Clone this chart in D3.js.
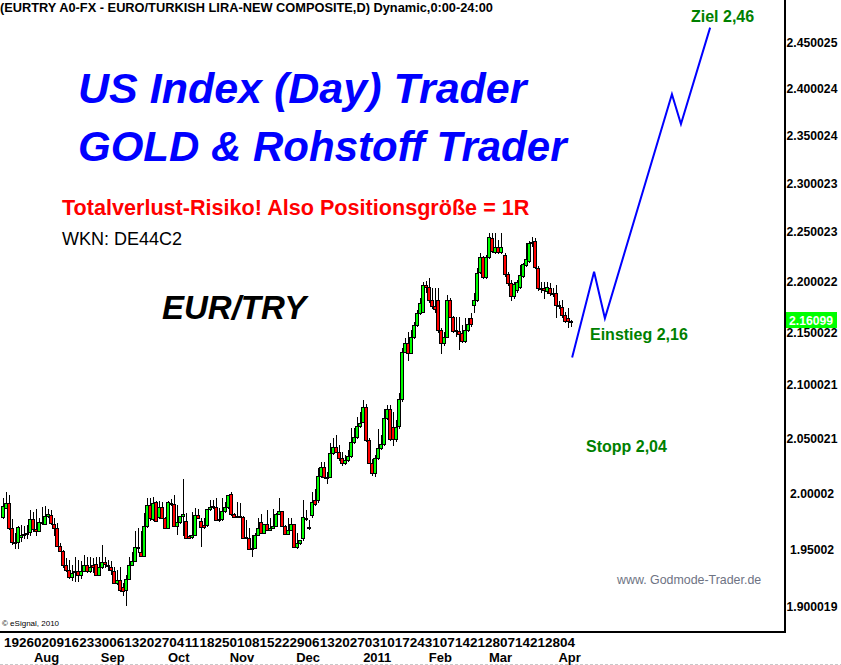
<!DOCTYPE html>
<html>
<head>
<meta charset="utf-8">
<script src="https://cdn.jsdelivr.net/npm/d3@7"></script>
<style>
  body { margin: 0; background: #fff; }
  svg { display: block; font-family: "Liberation Sans", Arial, sans-serif; }
</style>
</head>
<body>
<div id="chart"></div>
<script>
// EUR/TRY daily candles, 14 Jul 2010 - 5 Apr 2011
var opens = [
  1.9790,1.9870,1.9909,1.9686,1.9562,1.9568,1.9606,1.9627,1.9633,1.9651,
  1.9769,1.9680,1.9663,1.9731,1.9722,1.9799,1.9805,1.9725,1.9692,1.9532,
  1.9488,1.9364,1.9320,1.9254,1.9300,1.9306,1.9271,1.9312,1.9364,1.9306,
  1.9358,1.9370,1.9277,1.9341,1.9387,1.9364,1.9341,1.9312,1.9205,1.9233,
  1.9167,1.9147,1.9239,1.9364,1.9393,1.9508,1.9479,1.9445,1.9707,1.9894,
  1.9769,1.9918,1.9790,1.9879,1.9775,1.9686,1.9909,1.9900,1.9710,1.9740,
  1.9799,1.9752,1.9621,1.9612,1.9627,1.9805,1.9752,1.9716,1.9716,1.9858,
  1.9876,1.9879,1.9769,1.9769,1.9841,1.9879,1.9989,1.9811,1.9799,1.9790,
  1.9790,1.9612,1.9603,1.9508,1.9508,1.9627,1.9740,1.9642,1.9722,1.9672,
  1.9692,1.9710,1.9811,1.9841,1.9710,1.9633,1.9672,1.9722,1.9523,1.9553,
  1.9600,1.9780,1.9700,1.9805,1.9937,1.9939,2.0156,2.0236,2.0150,2.0150,
  2.0369,2.0423,2.0378,2.0318,2.0278,2.0302,2.0339,2.0469,2.0509,2.0615,
  2.0655,2.0790,2.0484,2.0272,2.0181,2.0318,2.0409,2.0448,2.0687,2.0772,
  2.0609,2.0491,2.0615,2.0865,2.1318,2.1404,2.1308,2.1456,2.1576,2.1690,
  2.1706,2.1968,2.1951,2.1821,2.1762,2.1821,2.1527,2.1404,2.1462,2.1821,
  2.1657,2.1527,2.1520,2.1494,2.1423,2.1527,2.1641,2.1771,2.1821,2.2100,
  2.2245,2.2050,2.2245,2.2436,2.2301,2.2345,2.2301,2.2268,2.2077,2.1984,
  2.1860,2.1919,2.1951,2.2057,2.2168,2.2211,2.2392,2.2412,2.2135,2.1935,
  2.1935,2.1909,2.1935,2.1886,2.1886,2.1772,2.1749,2.1674,2.1641,2.1618
];
var highs = [
  1.9959,2.0007,1.9983,1.9769,1.9642,1.9710,1.9716,1.9710,1.9716,1.9850,
  1.9835,1.9858,1.9775,1.9879,1.9888,1.9858,1.9850,1.9775,1.9731,1.9553,
  1.9494,1.9422,1.9407,1.9364,1.9436,1.9407,1.9393,1.9450,1.9436,1.9436,
  1.9427,1.9436,1.9436,1.9538,1.9436,1.9407,1.9393,1.9349,1.9320,1.9349,
  1.9205,1.9277,1.9436,1.9479,1.9657,1.9686,1.9657,1.9820,1.9959,1.9953,
  1.9968,1.9930,1.9930,1.9924,1.9790,1.9930,1.9947,1.9983,1.9894,1.9790,
  2.0130,1.9820,1.9627,1.9835,1.9870,1.9858,1.9775,1.9775,1.9858,1.9939,
  1.9939,1.9953,1.9864,1.9953,1.9924,1.9977,2.0007,1.9820,1.9918,1.9909,
  1.9799,1.9760,1.9692,1.9627,1.9642,1.9775,1.9811,1.9722,1.9850,1.9775,
  1.9858,1.9820,1.9959,1.9841,1.9716,1.9775,1.9775,1.9722,1.9642,1.9583,
  1.9938,1.9850,1.9760,2.0010,2.0040,2.0229,2.0287,2.0284,2.0195,2.0454,
  2.0500,2.0530,2.0439,2.0378,2.0348,2.0394,2.0594,2.0594,2.0702,2.0749,
  2.0859,2.0821,2.0503,2.0308,2.0348,2.0584,2.0530,2.0772,2.0812,2.0812,
  2.0749,2.0671,2.0921,2.1354,2.1449,2.1510,2.1526,2.1605,2.1723,2.1840,
  2.2000,2.2010,2.2033,2.1935,2.1935,2.1935,2.1546,2.1507,2.1870,2.1840,
  2.1664,2.1657,2.1651,2.1576,2.1641,2.1644,2.1690,2.1892,2.2135,2.2285,
  2.2258,2.2268,2.2492,2.2492,2.2492,2.2419,2.2492,2.2285,2.2097,2.2020,
  2.1997,2.2020,2.2168,2.2185,2.2386,2.2412,2.2452,2.2436,2.2158,2.2000,
  2.2000,2.1997,2.1990,2.1938,2.1968,2.1814,2.1821,2.1703,2.1739,2.1625
];
var lows = [
  1.9781,1.9864,1.9680,1.9544,1.9514,1.9514,1.9574,1.9597,1.9603,1.9627,
  1.9657,1.9627,1.9657,1.9722,1.9722,1.9790,1.9722,1.9627,1.9532,1.9488,
  1.9349,1.9312,1.9248,1.9233,1.9219,1.9219,1.9248,1.9306,1.9300,1.9300,
  1.9300,1.9271,1.9271,1.9335,1.9349,1.9320,1.9283,1.9205,1.9196,1.9138,
  1.9103,1.9016,1.9239,1.9358,1.9393,1.9479,1.9445,1.9445,1.9701,1.9760,
  1.9760,1.9746,1.9781,1.9775,1.9686,1.9686,1.9894,1.9710,1.9633,1.9731,
  1.9627,1.9597,1.9597,1.9603,1.9627,1.9775,1.9532,1.9692,1.9710,1.9850,
  1.9870,1.9760,1.9752,1.9760,1.9835,1.9870,1.9805,1.9790,1.9787,1.9787,
  1.9597,1.9597,1.9502,1.9445,1.9508,1.9627,1.9642,1.9642,1.9672,1.9672,
  1.9692,1.9710,1.9811,1.9710,1.9633,1.9633,1.9672,1.9523,1.9514,1.9544,
  1.9582,1.9760,1.9680,1.9790,1.9890,1.9920,2.0150,2.0138,2.0089,2.0144,
  2.0360,2.0370,2.0302,2.0257,2.0266,2.0296,2.0330,2.0460,2.0500,2.0605,
  2.0650,2.0475,2.0275,2.0165,2.0156,2.0310,2.0400,2.0440,2.0680,2.0485,
  2.0439,2.0475,2.0600,2.0850,2.1310,2.1238,2.1300,2.1450,2.1570,2.1680,
  2.1700,2.1900,2.1801,2.1742,2.1703,2.1507,2.1303,2.1382,2.1455,2.1650,
  2.1507,2.1468,2.1341,2.1411,2.1415,2.1520,2.1566,2.1703,2.1810,2.2090,
  2.2037,2.2040,2.2240,2.2298,2.2290,2.2288,2.2290,2.2057,2.1968,2.1821,
  2.1840,2.1899,2.1940,2.2050,2.2160,2.2200,2.2358,2.2138,2.1919,2.1899,
  2.1837,2.1890,2.1870,2.1860,2.1651,2.1742,2.1654,2.1605,2.1553,2.1566
];
var closes = [
  1.9888,1.9909,1.9686,1.9562,1.9568,1.9695,1.9627,1.9633,1.9642,1.9769,
  1.9680,1.9663,1.9740,1.9740,1.9793,1.9811,1.9731,1.9692,1.9532,1.9488,
  1.9358,1.9320,1.9254,1.9291,1.9306,1.9271,1.9312,1.9364,1.9306,1.9349,
  1.9349,1.9277,1.9341,1.9387,1.9370,1.9352,1.9317,1.9205,1.9233,1.9147,
  1.9138,1.9239,1.9364,1.9393,1.9517,1.9517,1.9445,1.9707,1.9894,1.9775,
  1.9909,1.9746,1.9879,1.9781,1.9686,1.9918,1.9909,1.9710,1.9740,1.9799,
  1.9811,1.9597,1.9600,1.9627,1.9805,1.9775,1.9701,1.9701,1.9858,1.9879,
  1.9885,1.9760,1.9760,1.9841,1.9879,1.9983,1.9811,1.9790,1.9787,1.9799,
  1.9597,1.9597,1.9502,1.9502,1.9627,1.9692,1.9642,1.9722,1.9672,1.9692,
  1.9710,1.9811,1.9841,1.9710,1.9633,1.9672,1.9722,1.9523,1.9553,1.9583,
  1.9787,1.9770,1.9690,1.9919,1.9902,2.0156,2.0236,2.0144,2.0144,2.0369,
  2.0423,2.0378,2.0318,2.0278,2.0302,2.0339,2.0469,2.0509,2.0615,2.0646,
  2.0796,2.0484,2.0278,2.0181,2.0318,2.0409,2.0448,2.0687,2.0772,2.0491,
  2.0491,2.0609,2.0865,2.1318,2.1404,2.1308,2.1456,2.1576,2.1690,2.1788,
  2.1968,2.1951,2.1821,2.1762,2.1730,2.1527,2.1404,2.1462,2.1821,2.1657,
  2.1520,2.1514,2.1488,2.1423,2.1527,2.1586,2.1586,2.1821,2.2090,2.2245,
  2.2050,2.2245,2.2446,2.2311,2.2345,2.2301,2.2351,2.2077,2.1984,2.1860,
  2.1977,2.2000,2.2067,2.2178,2.2225,2.2392,2.2402,2.2145,2.1935,2.1926,
  2.1919,2.1945,2.1886,2.1880,2.1772,2.1762,2.1674,2.1618,2.1618,2.1610
];

var firstDay = new Date(2010, 6, 14);
var lastPrice = 2.16099;

var yTickValues = [2.450025, 2.400024, 2.350024, 2.300023, 2.250023, 2.200022,
                   2.150022, 2.100021, 2.050021, 2.00002, 1.95002, 1.900019];
var yTickLabels = ["2.450025", "2.400024", "2.350024", "2.300023", "2.250023", "2.200022",
                   "2.150022", "2.100021", "2.050021", "2.00002", "1.95002", "1.900019"];

// hand drawn forecast zigzag (trading day index, price)
var projDay = [189.5, 196.8, 200.4, 222.7, 225.7, 235.4];
var projPrice = [2.126, 2.210, 2.164, 2.394, 2.362, 2.467];

var width = 841, height = 665;
var frameRight = 785, frameBottom = 632;

// weekday calendar for the candles
var dates = [];
var d = new Date(firstDay);
while (dates.length < closes.length) {
  if (d.getDay() !== 0 && d.getDay() !== 6) dates.push(new Date(d));
  d.setDate(d.getDate() + 1);
}

var svg = d3.select("#chart").append("svg")
    .attr("width", width)
    .attr("height", height);

var x = d3.scaleLinear()
    .domain([0, closes.length - 1])
    .range([2.5, 2.5 + 3.006 * (closes.length - 1)]);

var y = d3.scaleLog()
    .domain([1.9, 2.45])
    .range([606.9, 43]);

// header line
svg.append("text")
    .attr("x", 0).attr("y", 12)
    .attr("font-size", 12.8).attr("font-weight", "bold")
    .text("(EURTRY A0-FX - EURO/TURKISH LIRA-NEW COMPOSITE,D) Dynamic,0:00-24:00");

// candles
var idx = d3.range(closes.length);
var candles = svg.append("g");

candles.selectAll("line.wick").data(idx).enter().append("line")
    .attr("class", "wick")
    .attr("x1", function(i) { return Math.round(x(i)) + 0.5; })
    .attr("x2", function(i) { return Math.round(x(i)) + 0.5; })
    .attr("y1", function(i) { return Math.round(y(highs[i])); })
    .attr("y2", function(i) { return Math.round(y(lows[i])) + 1; })
    .attr("stroke", "#000").attr("stroke-width", 1);

candles.selectAll("rect.body").data(idx).enter().append("rect")
    .attr("class", "body")
    .attr("x", function(i) { return Math.round(x(i)) - 1.5; })
    .attr("y", function(i) { return Math.round(y(Math.max(opens[i], closes[i]))) + 0.5; })
    .attr("width", 3)
    .attr("height", function(i) {
      var h = Math.round(y(Math.min(opens[i], closes[i]))) - Math.round(y(Math.max(opens[i], closes[i])));
      return Math.max(h, 1);
    })
    .attr("fill", function(i) { return closes[i] >= opens[i] ? "#00ff00" : "#ff0000"; })
    .attr("stroke", "#000").attr("stroke-width", 1);

// forecast path
var line = d3.line()
    .x(function(k) { return x(projDay[k]); })
    .y(function(k) { return y(projPrice[k]); });

svg.append("path")
    .attr("d", line(d3.range(projDay.length)))
    .attr("fill", "none")
    .attr("stroke", "#0000ff")
    .attr("stroke-width", 2);

// frame
svg.append("line")
    .attr("x1", frameRight).attr("x2", frameRight)
    .attr("y1", 0).attr("y2", frameBottom + 1)
    .attr("stroke", "#000").attr("stroke-width", 2);
svg.append("line")
    .attr("x1", 0).attr("x2", frameRight + 1)
    .attr("y1", frameBottom).attr("y2", frameBottom)
    .attr("stroke", "#000").attr("stroke-width", 2);
svg.append("line")
    .attr("x1", 0).attr("x2", width)
    .attr("y1", 664.5).attr("y2", 664.5)
    .attr("stroke", "#c8c8c8").attr("stroke-dasharray", "3,2");

// price axis
var yAxis = d3.axisRight(y)
    .tickValues(yTickValues)
    .tickFormat(function(v, i) { return yTickLabels[i]; })
    .tickSize(0).tickPadding(0);

var gy = svg.append("g")
    .attr("transform", "translate(812,0)")
    .call(yAxis);
gy.select(".domain").remove();
gy.selectAll("text")
    .attr("text-anchor", "middle")
    .attr("font-family", "Liberation Sans, Arial, sans-serif")
    .attr("font-size", 12.2).attr("font-weight", "bold")
    .attr("fill", "#000");

// last price tag
var ly = y(lastPrice);
svg.append("rect")
    .attr("x", 786).attr("y", Math.round(ly) - 9)
    .attr("width", 51).attr("height", 16)
    .attr("fill", "#00ff00");
svg.append("text")
    .attr("x", 811).attr("y", ly + 3.5)
    .attr("text-anchor", "middle")
    .attr("font-size", 12.2).attr("font-weight", "bold")
    .attr("fill", "#fff")
    .text("2.16099");

// time axis: Monday day numbers and month names
var dayFmt = d3.timeFormat("%d"), monFmt = d3.timeFormat("%b");
var gx = svg.append("g")
    .attr("font-size", 13.5).attr("font-weight", "bold").attr("text-anchor", "middle");

gx.selectAll("text.day")
    .data(idx.filter(function(i) { return dates[i].getDay() === 1; }))
    .enter().append("text")
    .attr("class", "day")
    .attr("x", function(i) { return x(i); })
    .attr("y", 647)
    .text(function(i) { return dayFmt(dates[i]); });

gx.selectAll("text.month")
    .data(idx.filter(function(i) { return i > 0 && dates[i].getMonth() !== dates[i - 1].getMonth(); }))
    .enter().append("text")
    .attr("class", "month")
    .attr("x", function(i) { return x(i) + 5; })
    .attr("y", 662)
    .attr("font-size", 13)
    .text(function(i) {
      return dates[i].getMonth() === 0 ? dates[i].getFullYear() : monFmt(dates[i]);
    });

svg.append("text")
    .attr("x", 2).attr("y", 626)
    .attr("font-size", 8)
    .text("\u00a9 eSignal, 2010");

// overlay texts
svg.append("text")
    .attr("x", 78).attr("y", 103)
    .attr("font-size", 43).attr("font-weight", "bold").attr("font-style", "italic")
    .attr("fill", "#0000ff")
    .text("US Index (Day) Trader");
svg.append("text")
    .attr("x", 78).attr("y", 161)
    .attr("font-size", 42).attr("font-weight", "bold").attr("font-style", "italic")
    .attr("fill", "#0000ff")
    .text("GOLD & Rohstoff Trader");

svg.append("text")
    .attr("x", 62).attr("y", 215)
    .attr("font-size", 21.6).attr("font-weight", "bold")
    .attr("fill", "#ff0000")
    .text("Totalverlust-Risiko! Also Positionsgröße = 1R");
svg.append("text")
    .attr("x", 62).attr("y", 245)
    .attr("font-size", 18)
    .attr("fill", "#000")
    .text("WKN: DE44C2");
svg.append("text")
    .attr("x", 162).attr("y", 319)
    .attr("font-size", 33).attr("font-weight", "bold").attr("font-style", "italic")
    .attr("fill", "#000")
    .text("EUR/TRY");

var greenText = [
  { t: "Ziel 2,46", x: 691, y: 22 },
  { t: "Einstieg 2,16", x: 590, y: 340 },
  { t: "Stopp 2,04", x: 586, y: 452 }
];
svg.selectAll("text.note").data(greenText).enter().append("text")
    .attr("class", "note")
    .attr("x", function(n) { return n.x; })
    .attr("y", function(n) { return n.y; })
    .attr("font-size", 16).attr("font-weight", "bold")
    .attr("fill", "#008000")
    .text(function(n) { return n.t; });

svg.append("text")
    .attr("x", 617).attr("y", 584)
    .attr("font-size", 12.4)
    .attr("fill", "#6e7383")
    .text("www. Godmode-Trader.de");
</script>
</body>
</html>
